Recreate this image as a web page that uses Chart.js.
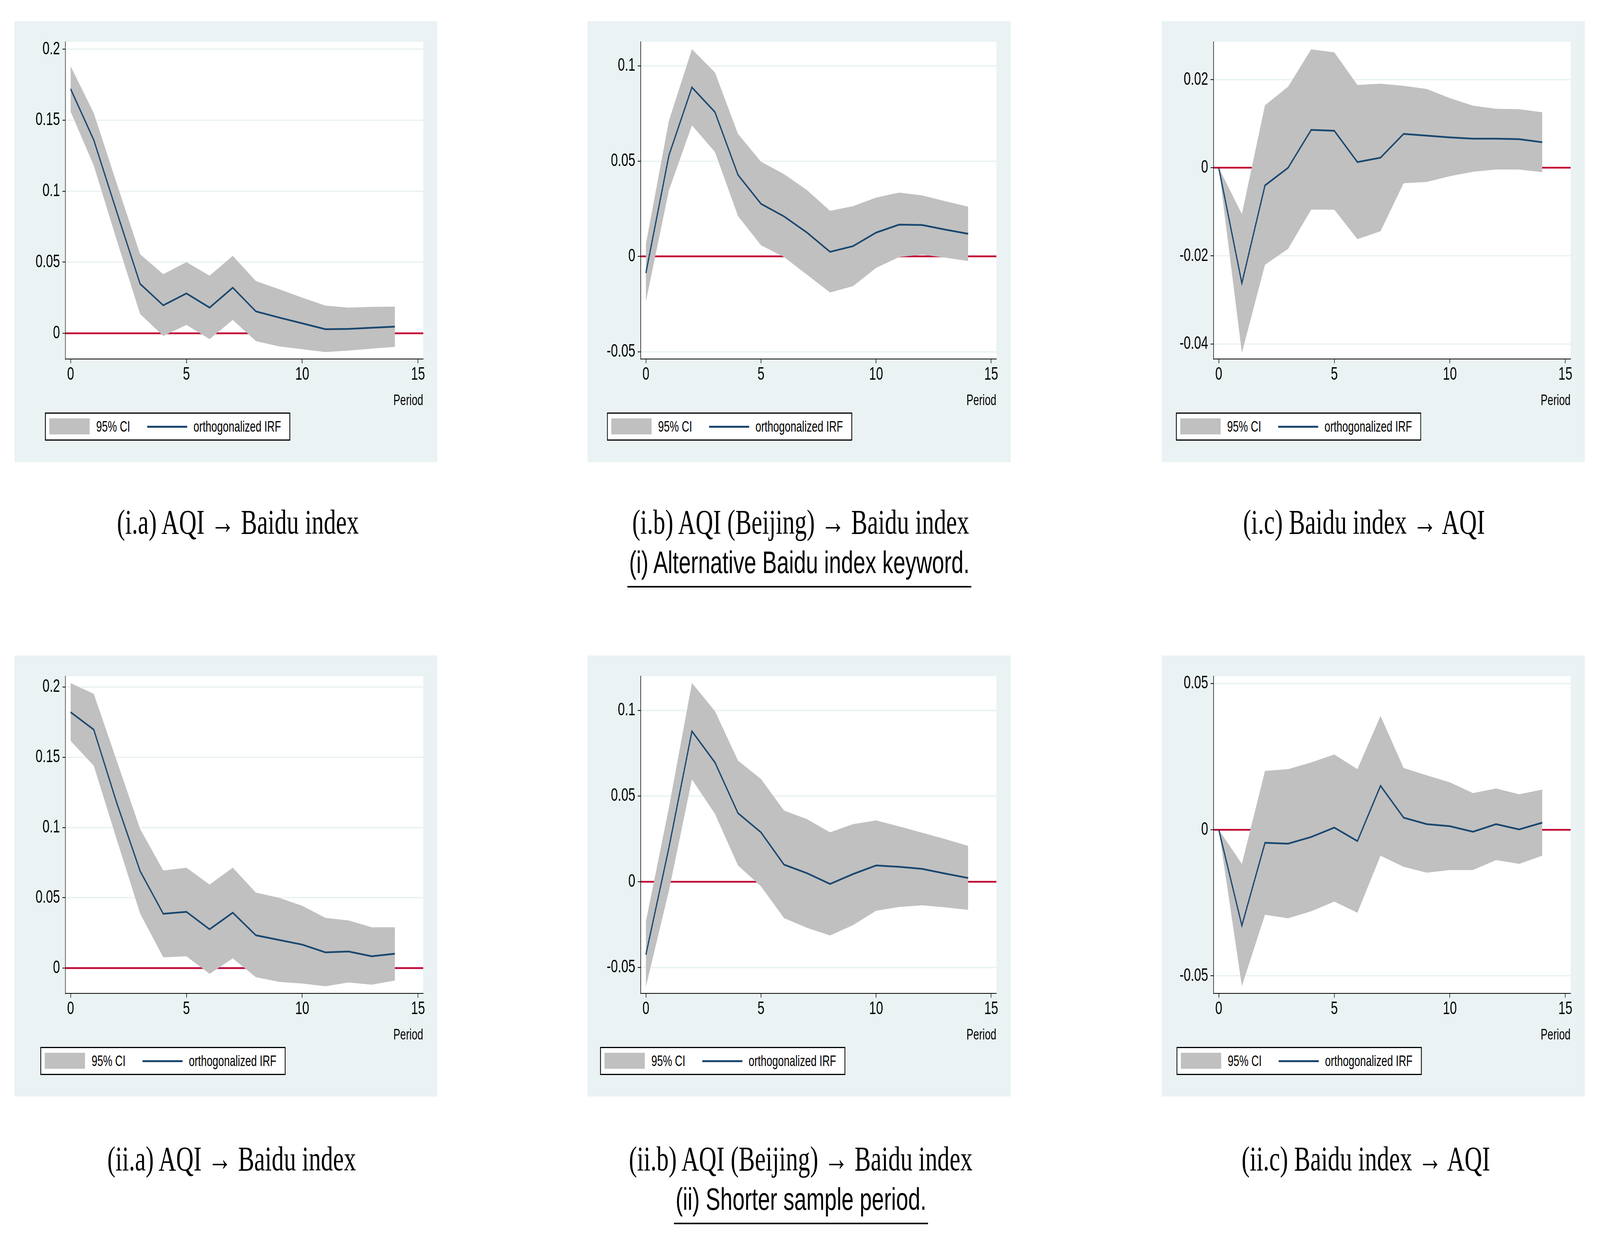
<!DOCTYPE html>
<html>
<head>
<meta charset="utf-8">
<script src="https://cdn.jsdelivr.net/npm/chart.js@4.4.1/dist/chart.umd.min.js"></script>
<style>
  html, body { margin: 0; padding: 0; background: #ffffff; overflow: hidden; }
  #page { position: absolute; left: 0; top: 0; width: 5871px; height: 3182px; transform-origin: 0 0; background: #fff; }
  .panel { position: absolute; width: 1552px; height: 1129px; background: #eaf2f3; }
  .panel canvas { position: absolute; left: 0; top: 0; }
  .legend {
    position: absolute; top: 1002px; width: 894px; height: 66px;
    border: 3px solid #000; background: #fff;
    font-family: "Liberation Sans", Arial, sans-serif; font-size: 38px; color: #000;
  }
  .legend .swatch { position: absolute; left: 13px; top: 12px; width: 148px; height: 41px; background: #c0c0c0; }
  .legend .lineSample { position: absolute; left: 372px; top: 31px; width: 147px; height: 5px; background: #1a476f; }
  .legend .txt { position: absolute; top: 12px; line-height: 42px; white-space: nowrap; }
  .caption {
    position: absolute; width: 2000px; text-align: center;
    font-family: "Liberation Serif", "Times New Roman", serif; font-size: 89px; line-height: 89px;
    white-space: nowrap; color: #000;
  }
  .section {
    position: absolute; width: 2400px; text-align: center;
    font-family: "Liberation Sans", Arial, sans-serif; font-size: 80px; line-height: 80px; color: #000;
  }
  .section span { display: inline-block; padding: 0 6px 20px 6px; border-bottom: 4px solid #000; white-space: nowrap; }
</style>
</head>
<body>
<div id="page"></div>
<script>
// impulse-response periods
const periods = [0, 1, 2, 3, 4, 5, 6, 7, 8, 9, 10, 11, 12, 13, 14];

// (i.a) AQI -> Baidu index
const irfIA = [0.172, 0.136, 0.085, 0.0347, 0.0196, 0.028, 0.018, 0.032, 0.0153, 0.011, 0.0069, 0.0028, 0.003, 0.0038, 0.0046];
const hiIA = [0.188, 0.155, 0.105, 0.0556, 0.0415, 0.05, 0.0405, 0.0544, 0.0367, 0.031, 0.025, 0.0194, 0.018, 0.0185, 0.0187];
const loIA = [0.156, 0.118, 0.065, 0.0135, -0.002, 0.0058, -0.0042, 0.0093, -0.0056, -0.0093, -0.0113, -0.0133, -0.0123, -0.0109, -0.0097];

// (i.b) AQI (Beijing) -> Baidu index
const irfIB = [-0.0087, 0.053, 0.0887, 0.0757, 0.0428, 0.0276, 0.021, 0.0125, 0.0024, 0.0054, 0.0125, 0.0167, 0.0165, 0.0141, 0.0119];
const hiIB = [0.0065, 0.0712, 0.1087, 0.0965, 0.0643, 0.0497, 0.0432, 0.0348, 0.0239, 0.0264, 0.0309, 0.0335, 0.032, 0.029, 0.0261];
const loIB = [-0.0236, 0.0347, 0.0688, 0.0548, 0.0212, 0.0059, -0.0003, -0.0096, -0.0189, -0.0156, -0.006, -0.0003, 0.0009, -0.0006, -0.0024];

// (i.c) Baidu index -> AQI
const irfIC = [0, -0.0262, -0.004, 0, 0.0086, 0.0084, 0.0013, 0.0023, 0.0077, 0.0073, 0.0069, 0.0066, 0.0066, 0.0065, 0.0058];
const hiIC = [0, -0.0105, 0.0142, 0.0184, 0.0269, 0.0262, 0.0188, 0.0191, 0.0186, 0.0179, 0.0158, 0.0141, 0.0134, 0.0133, 0.0126];
const loIC = [0, -0.042, -0.022, -0.0184, -0.0095, -0.0095, -0.0162, -0.0144, -0.0035, -0.0032, -0.0019, -0.0009, -0.0004, -0.0004, -0.001];

// (ii.a) AQI -> Baidu index, shorter sample
const irfIIA = [0.182, 0.1696, 0.117, 0.069, 0.0386, 0.04, 0.0276, 0.0394, 0.0233, 0.02, 0.0167, 0.0112, 0.0118, 0.0084, 0.0102];
const hiIIA = [0.2027, 0.195, 0.147, 0.099, 0.0694, 0.0714, 0.0594, 0.0714, 0.0537, 0.05, 0.0443, 0.0357, 0.0339, 0.029, 0.029];
const loIIA = [0.1616, 0.1439, 0.091, 0.0388, 0.0076, 0.0084, -0.0041, 0.0069, -0.0065, -0.0098, -0.011, -0.0129, -0.0102, -0.0118, -0.0088];

// (ii.b) AQI (Beijing) -> Baidu index, shorter sample
const irfIIB = [-0.0425, 0.0199, 0.0878, 0.0696, 0.04, 0.0288, 0.01, 0.005, -0.0013, 0.0045, 0.0095, 0.0087, 0.0075, 0.0048, 0.0022];
const hiIIB = [-0.0232, 0.0433, 0.1159, 0.0995, 0.0707, 0.0599, 0.0415, 0.0365, 0.0288, 0.0336, 0.0358, 0.0323, 0.0286, 0.0249, 0.0209];
const loIIB = [-0.0612, -0.0052, 0.0597, 0.0396, 0.0095, -0.0027, -0.0212, -0.0269, -0.0313, -0.0253, -0.0169, -0.0147, -0.0137, -0.0149, -0.0164];

// (ii.c) Baidu index -> AQI, shorter sample
const irfIIC = [0, -0.0328, -0.0045, -0.0048, -0.0025, 0.0007, -0.0039, 0.015, 0.0041, 0.0019, 0.0012, -0.0007, 0.0019, 0.0001, 0.0024];
const hiIIC = [0, -0.0117, 0.0201, 0.0207, 0.023, 0.0257, 0.0207, 0.0389, 0.0211, 0.0186, 0.0162, 0.0125, 0.0141, 0.0121, 0.0137];
const loIIC = [0, -0.0535, -0.0291, -0.0303, -0.0279, -0.0246, -0.0284, -0.0089, -0.0127, -0.0147, -0.0138, -0.0138, -0.0104, -0.0117, -0.0089];

// axis ticks
const xTicks = [0, 5, 10, 15];
const yTicksA = [0, 0.05, 0.1, 0.15, 0.2];
const yTicksB = [-0.05, 0, 0.05, 0.1];
const yTicksIC = [-0.04, -0.02, 0, 0.02];
const yTicksIIC = [-0.05, 0, 0.05];

// captions
const captions = [
  "(i.a) AQI \u2192 Baidu index", "(i.b) AQI (Beijing) \u2192 Baidu index", "(i.c) Baidu index \u2192 AQI",
  "(ii.a) AQI \u2192 Baidu index", "(ii.b) AQI (Beijing) \u2192 Baidu index", "(ii.c) Baidu index \u2192 AQI",
];
const sectionLabels = ["(i) Alternative Baidu index keyword.", "(ii) Shorter sample period."];
const legendLabels = ["95% CI", "orthogonalized IRF"];

const NAVY = "#1a476f";
const BAND = "#c0c0c0";
const RED = "#c10534";
const GRID = "#eaf2f3";

const panels = [
  { irf: irfIA, lo: loIA, hi: hiIA, yMin: -0.0182, yMax: 0.2052, yTicks: yTicksA, left: 53, top: 54, plotLeft: 187, legendLeft: 112, capX: 873 },
  { irf: irfIB, lo: loIB, hi: hiIB, yMin: -0.0538, yMax: 0.1126, yTicks: yTicksB, left: 2156, top: 54, plotLeft: 195, legendLeft: 71, capX: 2938 },
  { irf: irfIC, lo: loIC, hi: hiIC, yMin: -0.0434, yMax: 0.0286, yTicks: yTicksIC, left: 4263, top: 54, plotLeft: 190, legendLeft: 52, capX: 5005 },
  { irf: irfIIA, lo: loIIA, hi: hiIIA, yMin: -0.018, yMax: 0.2076, yTicks: yTicksA, left: 53, top: 1678, plotLeft: 187, legendLeft: 95, capX: 850 },
  { irf: irfIIB, lo: loIIB, hi: hiIIB, yMin: -0.0651, yMax: 0.1199, yTicks: yTicksB, left: 2156, top: 1678, plotLeft: 195, legendLeft: 46, capX: 2938 },
  { irf: irfIIC, lo: loIIC, hi: hiIIC, yMin: -0.056, yMax: 0.0525, yTicks: yTicksIIC, left: 4263, top: 1678, plotLeft: 190, legendLeft: 54, capX: 5012 },
];

// the browser may cap the window width, so stretch the 5871x3182 sheet to fill it
const page = document.getElementById("page");
const sx = window.innerWidth / 5871 || 1;
const sy = window.innerHeight / 3182 || 1;
page.style.transform = `scale(${sx}, ${sy})`;
const pixelRatio = Math.max(sx, sy) * (window.devicePixelRatio || 1);

// white plot region behind the data
const plotBg = {
  id: "plotBg",
  beforeDraw(chart) {
    const { ctx, chartArea: a } = chart;
    ctx.save();
    ctx.fillStyle = "#ffffff";
    ctx.fillRect(a.left, a.top, a.right - a.left, a.bottom - a.top);
    ctx.restore();
  },
};

const pts = (vals) => periods.map((p, i) => ({ x: p, y: vals[i] }));
const tickFont = { family: "'Liberation Sans', Arial, sans-serif", size: 46 };

panels.forEach((p, k) => {
  const div = document.createElement("div");
  div.className = "panel";
  div.style.left = p.left + "px";
  div.style.top = p.top + "px";
  page.appendChild(div);

  const canvas = document.createElement("canvas");
  canvas.width = 1552;
  canvas.height = 1129;
  canvas.style.width = "1552px";
  canvas.style.height = "1129px";
  div.appendChild(canvas);

  const legend = document.createElement("div");
  legend.className = "legend";
  legend.style.left = p.legendLeft + "px";
  legend.innerHTML = `<div class="swatch"></div><div class="txt" style="left:185px">${legendLabels[0]}</div>` +
    `<div class="lineSample"></div><div class="txt" style="left:542px">${legendLabels[1]}</div>`;
  div.appendChild(legend);

  new Chart(canvas, {
    type: "line",
    plugins: [plotBg],
    data: {
      datasets: [
        { data: pts(p.irf), borderColor: NAVY, borderWidth: 4.5, pointRadius: 0, fill: false, tension: 0 },
        { data: pts(p.hi), borderWidth: 0, pointRadius: 0, backgroundColor: BAND, fill: "+1", tension: 0 },
        { data: pts(p.lo), borderWidth: 0, pointRadius: 0, fill: false, tension: 0 },
      ],
    },
    options: {
      responsive: false,
      devicePixelRatio: pixelRatio,
      animation: false,
      layout: { padding: { left: 0, top: 53, right: 52, bottom: 134 } },
      plugins: { legend: { display: false }, tooltip: { enabled: false } },
      scales: {
        x: {
          type: "linear",
          min: -0.225,
          max: 15.225,
          afterBuildTicks: (s) => { s.ticks = xTicks.map((v) => ({ value: v })); },
          afterFit: (s) => { s.height = 130; },
          ticks: { font: tickFont, color: "#000", padding: 2, maxRotation: 0, autoSkip: false, callback: (v) => String(v) },
          grid: { drawOnChartArea: false, drawTicks: true, tickLength: 11, tickColor: "#000", tickWidth: 2 },
          border: { display: true, color: "#000", width: 2 },
          title: {
            display: true, text: "Period", align: "end", color: "#000", padding: 0,
            font: { family: "'Liberation Sans', Arial, sans-serif", size: 38 },
          },
        },
        y: {
          min: p.yMin,
          max: p.yMax,
          afterBuildTicks: (s) => { s.ticks = p.yTicks.map((v) => ({ value: v })); },
          afterFit: (s) => { s.width = p.plotLeft; },
          ticks: { font: tickFont, color: "#000", padding: 9, autoSkip: false, callback: (v) => String(v) },
          grid: {
            drawOnChartArea: true,
            drawTicks: true,
            tickLength: 11,
            tickColor: "#000",
            tickWidth: 2,
            color: (c) => (c.tick && c.tick.value === 0 ? RED : GRID),
            lineWidth: (c) => (c.tick && c.tick.value === 0 ? 4.5 : 3.5),
          },
          border: { display: true, color: "#000", width: 2 },
        },
      },
    },
  });

  const cap = document.createElement("div");
  cap.className = "caption";
  cap.textContent = captions[k];
  cap.style.left = (p.capX - 1000) + "px";
  cap.style.top = (k < 3 ? 1292 : 2922) + "px";
  page.appendChild(cap);
});

sectionLabels.forEach((t, r) => {
  const d = document.createElement("div");
  d.className = "section";
  d.style.left = (r === 0 ? 2933 : 2939) - 1200 + "px";
  d.style.top = (r === 0 ? 1400 : 3030) + "px";
  const s = document.createElement("span");
  s.textContent = t;
  d.appendChild(s);
  page.appendChild(d);
});
</script>
</body>
</html>
